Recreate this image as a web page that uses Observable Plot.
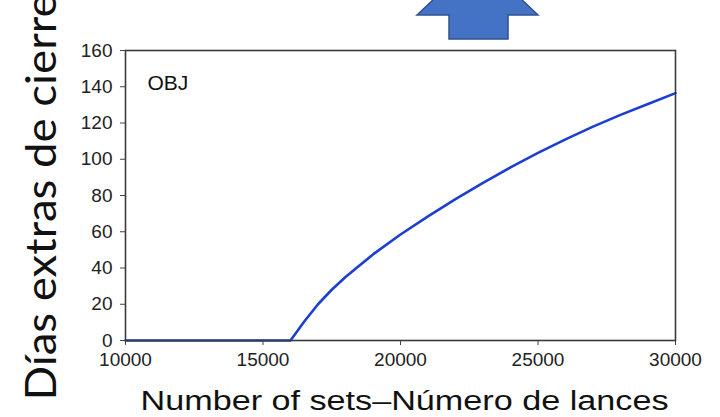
<!DOCTYPE html>
<html>
<head>
<meta charset="utf-8">
<script src="https://cdn.jsdelivr.net/npm/d3@7"></script>
<script src="https://cdn.jsdelivr.net/npm/@observablehq/plot@0.6"></script>
<style>
  html, body { margin: 0; padding: 0; background: #fff; overflow: hidden; }
  #wrap { position: relative; width: 720px; height: 417px; }
  #arrow { position: absolute; left: 0; top: 0; pointer-events: none; }
</style>
</head>
<body>
<div id="wrap"></div>
<script>
// Data
const sets = [10000, 11000, 12000, 13000, 14000, 15000, 16000, 16500, 17000, 17500, 18000, 19000, 20000, 21000, 22000, 23000, 24000, 25000, 26000, 27000, 28000, 29000, 30000];
const extraDays = [0, 0, 0, 0, 0, 0, 0, 10.5, 20, 28, 35, 47.5, 58.5, 68.5, 78, 87, 95.5, 103.5, 111, 118, 124.5, 130.5, 136.5];
const xTicks = [10000, 15000, 20000, 25000, 30000];
const yTicks = [0, 20, 40, 60, 80, 100, 120, 140, 160];
const yLabel = "Días extras de cierre";
const xLabel = "Number of sets\u2013Número de lances";
const panelLabel = "OBJ";

const data = sets.map((s, i) => ({sets: s, days: extraDays[i]}));

const chart = Plot.plot({
  width: 720,
  height: 417,
  marginLeft: 125,
  marginRight: 45,
  marginTop: 50,
  marginBottom: 77,
  style: {fontFamily: "'Liberation Sans', Arial, sans-serif", background: "#fff", overflow: "visible"},
  x: {domain: [10000, 30000]},
  y: {domain: [0, 160]},
  marks: [
    Plot.axisX({ticks: xTicks, tickFormat: d => String(d), tickSize: 5, tickPadding: 7, fontSize: 19, label: null, stroke: "#444", color: "#222"}),
    Plot.axisY({ticks: yTicks, tickSize: 5, tickPadding: 8, fontSize: 19, label: null, stroke: "#444", color: "#222"}),
    Plot.line(data, {x: "sets", y: "days", stroke: "#1c3fd1", strokeWidth: 2.6}),
    Plot.frame({stroke: "#3a3a3a", strokeWidth: 1.6}),
    Plot.text([panelLabel], {frameAnchor: "top-left", text: d => d, dx: 22, dy: 25, textAnchor: "start", fontSize: 21, fill: "#111"}),
    Plot.text([xLabel], {frameAnchor: "bottom", text: d => d, dx: 4, dy: 61, fontSize: 27, fill: "#111", lineAnchor: "middle"}),
    Plot.text([yLabel], {frameAnchor: "left", text: d => d, dx: -83, dy: 205, rotate: -90, textAnchor: "start", fontSize: 42, fill: "#111", fontFamily: "Lato, 'Open Sans', sans-serif", lineAnchor: "middle"})
  ]
});
chart.setAttribute("id", "chart");
document.getElementById("wrap").appendChild(chart);

// fit the long labels to the reference length
chart.querySelectorAll("text").forEach(t => {
  if (t.textContent === yLabel) {
    t.setAttribute("textLength", 407);
    t.setAttribute("lengthAdjust", "spacingAndGlyphs");
  }
  if (t.textContent === xLabel) {
    t.setAttribute("textLength", 528);
    t.setAttribute("lengthAdjust", "spacingAndGlyphs");
  }
});

// decorative block arrow above the chart
const ns = "http://www.w3.org/2000/svg";
const svg = document.createElementNS(ns, "svg");
svg.setAttribute("id", "arrow");
svg.setAttribute("width", 720);
svg.setAttribute("height", 60);
const poly = document.createElementNS(ns, "polygon");
poly.setAttribute("points", "417,15 477.5,-42 538,15 508,15 508,39 449,39 449,15");
poly.setAttribute("fill", "#4472C4");
poly.setAttribute("stroke", "#2F528F");
poly.setAttribute("stroke-width", "1.5");
svg.appendChild(poly);
document.getElementById("wrap").appendChild(svg);
</script>
</body>
</html>
